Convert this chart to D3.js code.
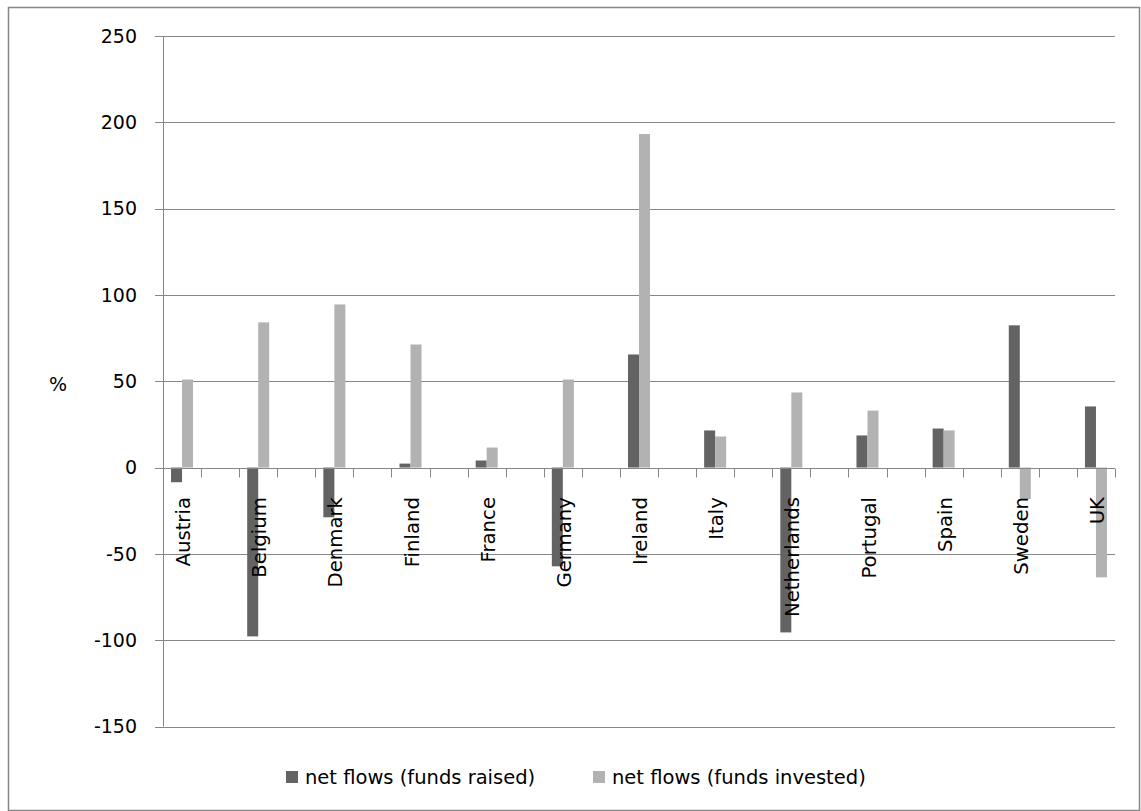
<!DOCTYPE html>
<html>
<head>
<meta charset="utf-8">
<script src="https://cdn.jsdelivr.net/npm/d3@7"></script>
<style>
  html, body { margin: 0; padding: 0; background: #fff; }
  svg { display: block; }
  text { font-family: "DejaVu Sans", sans-serif; fill: #000; }
</style>
</head>
<body>
<script>
// Net flows by country, in percent
const countries = ["Austria", "Belgium", "Denmark", "Finland", "France", "Germany", "Ireland",
                   "Italy", "Netherlands", "Portugal", "Spain", "Sweden", "UK"];
const fundsRaised   = [-8.5, -97.8, -28.8, 2.3, 4.1, -57.2, 65.5, 21.5, -95.5, 18.6, 22.6, 82.4, 35.4];
const fundsInvested = [51, 84.1, 94.5, 71.3, 11.6, 51, 193.2, 18, 43.5, 33, 21.5, -18.2, -63.6];
const seriesNames = ["net flows (funds raised)", "net flows (funds invested)"];
const seriesColors = ["#636363", "#b2b2b2"];
const yTicks = [-150, -100, -50, 0, 50, 100, 150, 200, 250];

const W = 1141, H = 811;
const plot = { left: 163, right: 1115, top: 36, bottom: 726.5 };

const svg = d3.select("body").append("svg").attr("width", W).attr("height", H);

// outer frame
svg.append("rect")
  .attr("x", 8.5).attr("y", 7.5).attr("width", 1131).attr("height", 803)
  .attr("fill", "#fff").attr("stroke", "#868686").attr("stroke-width", 1.5);

const y = d3.scaleLinear().domain([-150, 250]).range([plot.bottom, plot.top]);
const x = d3.scaleBand().domain(countries).range([plot.left, plot.right])
  .paddingInner(0.5).paddingOuter(0);
const xs = d3.scaleBand().domain([0, 1]).range([0, x.bandwidth()])
  .paddingInner(0).paddingOuter(0.73);

// horizontal gridlines with left tick marks
svg.append("g").selectAll("line").data(yTicks).join("line")
  .attr("x1", plot.left - 8).attr("x2", plot.right)
  .attr("y1", d => Math.round(y(d)) + 0.5).attr("y2", d => Math.round(y(d)) + 0.5)
  .attr("stroke", "#868686").attr("stroke-width", 1);

// y tick labels
svg.append("g").selectAll("text").data(yTicks).join("text")
  .attr("x", 137).attr("y", d => y(d)).attr("dy", "0.36em")
  .attr("text-anchor", "end").style("font-size", "19px")
  .text(d => d);

// y axis title
svg.append("text").attr("x", 58).attr("y", 384).attr("dy", "0.36em")
  .attr("text-anchor", "middle").style("font-size", "19px").text("%");

// bars
const rows = countries.map((c, i) => ({ c, vals: [fundsRaised[i], fundsInvested[i]] }));
const groups = svg.append("g").selectAll("g").data(rows).join("g")
  .attr("transform", d => `translate(${x(d.c)},0)`);
groups.selectAll("rect").data(d => d.vals.map((v, k) => ({ v, k }))).join("rect")
  .attr("x", d => xs(d.k)).attr("width", xs.bandwidth())
  .attr("y", d => y(Math.max(0, d.v)))
  .attr("height", d => Math.abs(y(d.v) - y(0)))
  .attr("fill", d => seriesColors[d.k]);

// y axis line
svg.append("line")
  .attr("x1", plot.left + 0.5).attr("x2", plot.left + 0.5)
  .attr("y1", plot.top).attr("y2", plot.bottom)
  .attr("stroke", "#868686");

// zero line and category tick marks
const y0 = Math.round(y(0)) + 0.5;
svg.append("line").attr("x1", plot.left - 8).attr("x2", plot.right)
  .attr("y1", y0).attr("y2", y0).attr("stroke", "#868686");
const tickXs = [];
countries.forEach((c, i) => {
  if (i > 0) tickXs.push(x(c));
  tickXs.push(x(c) + x.bandwidth());
});
svg.append("g").selectAll("line").data(tickXs).join("line")
  .attr("x1", d => Math.round(d) + 0.5).attr("x2", d => Math.round(d) + 0.5)
  .attr("y1", y0).attr("y2", y0 + 9)
  .attr("stroke", "#868686");

// rotated category labels
svg.append("g").selectAll("text").data(countries).join("text")
  .attr("transform", d => `translate(${x(d) + x.bandwidth() / 2 + 1},497) rotate(-90)`)
  .attr("text-anchor", "end").attr("dy", "0.36em")
  .style("font-size", "19.7px")
  .text(d => d);

// legend
const legendX = [286, 593];
const lg = svg.append("g").selectAll("g").data(seriesNames).join("g")
  .attr("transform", (d, i) => `translate(${legendX[i]},771)`);
lg.append("rect").attr("width", 12).attr("height", 12)
  .attr("fill", (d, i) => seriesColors[i]);
lg.append("text").attr("x", 19).attr("y", 6).attr("dy", "0.36em")
  .style("font-size", "19.5px").text(d => d);
</script>
</body>
</html>
